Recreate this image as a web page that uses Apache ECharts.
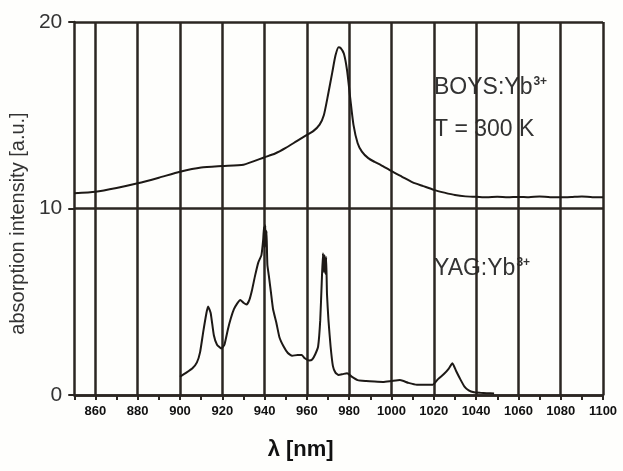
<!DOCTYPE html>
<html>
<head>
<meta charset="utf-8">
<script src="https://cdn.jsdelivr.net/npm/echarts@6/dist/echarts.min.js"></script>
<style>
html,body{margin:0;padding:0;background:#fefefc;}
#chart{width:623px;height:471px;}
</style>
</head>
<body>
<div id="chart"></div>
<script>
// BOYS:Yb3+ spectrum (upper trace, offset by +10)
var boysWavelength = [850, 860, 870, 880, 890, 900, 910, 920, 930, 940, 945, 950, 955, 960, 963, 966, 968, 970, 972, 973.5, 975, 976, 977.5, 979, 980.5, 982, 984, 986, 989, 992, 995, 1000, 1005, 1010, 1015, 1020, 1025, 1030, 1035, 1040, 1045, 1050, 1055, 1060, 1065, 1070, 1075, 1080, 1085, 1090, 1095, 1100];
var boysIntensity = [10.82, 10.9, 11.1, 11.35, 11.65, 11.97, 12.2, 12.28, 12.35, 12.75, 12.95, 13.25, 13.6, 13.95, 14.15, 14.5, 15.0, 16.1, 17.3, 18.2, 18.65, 18.6, 18.3, 17.4, 15.9, 14.5, 13.5, 13.05, 12.7, 12.5, 12.33, 12.0, 11.7, 11.4, 11.2, 11.0, 10.85, 10.72, 10.65, 10.63, 10.6, 10.63, 10.6, 10.62, 10.6, 10.65, 10.6, 10.6, 10.62, 10.65, 10.6, 10.6];

// YAG:Yb3+ spectrum (lower trace)
var yagWavelength = [900, 903, 906, 908, 909.5, 911, 912.5, 913.3, 914.5, 916, 917.5, 919.5, 921, 922.6, 924, 925.5, 927, 928.5, 930, 931.5, 932.8, 934, 935.5, 937, 938.5, 939.3, 939.7, 940.0, 940.3, 940.6, 940.9, 941.3, 942, 943, 944, 945.5, 947, 949, 951, 953, 955.5, 957.5, 959, 961, 962.5, 964, 965.3, 966.3, 967, 967.6, 968, 968.3, 968.7, 969.1, 969.5, 970.2, 971.2, 972.3, 973.5, 975, 977, 979, 981, 984, 988, 992, 996, 1000, 1004, 1008, 1012, 1016, 1019.5, 1022, 1025, 1027, 1028.8, 1030.5, 1032.5, 1034.5, 1036.5, 1039, 1042, 1045, 1048.5];
var yagIntensity = [0.98, 1.2, 1.45, 1.75, 2.3, 3.4, 4.4, 4.75, 4.4, 3.2, 2.7, 2.5, 2.7, 3.5, 4.1, 4.6, 4.9, 5.1, 4.95, 4.85, 5.1, 5.6, 6.4, 7.1, 7.5, 8.3, 9.0, 7.9, 9.1, 8.0, 8.8, 7.0, 6.4, 5.5, 4.6, 3.9, 3.1, 2.6, 2.25, 2.1, 2.15, 2.15, 1.97, 1.85, 1.9, 2.2, 2.6, 4.0, 6.0, 7.6, 6.6, 7.5, 6.5, 7.4, 5.4, 4.0, 2.6, 1.55, 1.2, 1.07, 1.12, 1.17, 1.0, 0.8, 0.75, 0.72, 0.7, 0.75, 0.8, 0.65, 0.55, 0.55, 0.55, 0.85, 1.15, 1.4, 1.7, 1.3, 0.85, 0.45, 0.25, 0.15, 0.12, 0.1, 0.08];

// axis ticks
var xMin = 850, xMax = 1100, xStep = 10, xLabelStep = 20;
var yMin = 0, yMax = 20, yStep = 10;

function zip(xs, ys) { return xs.map(function (x, i) { return [x, ys[i]]; }); }

var ink = '#2b2622';
var textInk = '#333';
var annFont = {fontSize: 23, fontFamily: 'Liberation Sans', fill: textInk};
var supFont = {fontSize: 12, fontWeight: 'bold', fontFamily: 'Liberation Sans', fill: textInk, verticalAlign: 'top', padding: [0, 0, 12, 1]};

var chart = echarts.init(document.getElementById('chart'), null, {renderer: 'canvas'});
chart.setOption({
  backgroundColor: '#fefefc',
  animation: false,
  grid: {left: 73, right: 20, top: 22, bottom: 76},
  xAxis: {
    type: 'value', min: xMin, max: xMax, interval: xStep,
    name: 'λ [nm]', nameLocation: 'middle', nameGap: 44,
    nameTextStyle: {fontSize: 22, fontWeight: 'bold', color: '#111', fontFamily: 'Liberation Sans', padding: [0, 76, 0, 0]},
    axisLine: {show: true, lineStyle: {color: ink, width: 2.5}},
    axisTick: {show: true, length: 5, lineStyle: {color: ink, width: 2}},
    axisLabel: {
      margin: 10, fontSize: 13, fontWeight: 'bold', color: '#111', fontFamily: 'Liberation Sans',
      formatter: function (v) { return v % xLabelStep === 0 ? String(v) : ''; }
    },
    splitLine: {show: true, lineStyle: {color: ['rgba(0,0,0,0)', ink], width: 2.5}}
  },
  yAxis: {
    type: 'value', min: yMin, max: yMax, interval: yStep,
    name: 'absorption intensity [a.u.]', nameLocation: 'middle', nameGap: 44,
    nameTextStyle: {fontSize: 20, color: textInk, fontFamily: 'Liberation Sans', padding: [0, 30, 0, 0]},
    axisLine: {show: true, lineStyle: {color: ink, width: 2.5}},
    axisTick: {show: true, length: 6, lineStyle: {color: ink, width: 2}},
    axisLabel: {margin: 12, fontSize: 21, color: textInk, fontFamily: 'Liberation Sans'},
    splitLine: {show: true, lineStyle: {color: ink, width: 2.5}}
  },
  graphic: [
    {type: 'text', left: 434, top: 76, style: {text: '{m|BOYS:Yb}{s|3+}', rich: {m: annFont, s: supFont}}},
    {type: 'text', left: 434, top: 118, style: {text: 'T = 300 K', fontSize: 23, fontFamily: 'Liberation Sans', fill: textInk}},
    {type: 'text', left: 434, top: 257, style: {text: '{m|YAG:Yb}{s|3+}', rich: {m: annFont, s: supFont}}}
  ],
  series: [
    {type: 'line', name: 'BOYS:Yb3+', data: zip(boysWavelength, boysIntensity), showSymbol: false, symbol: 'none', smooth: 0.2,
     lineStyle: {color: '#1d1916', width: 2}},
    {type: 'line', name: 'YAG:Yb3+', data: zip(yagWavelength, yagIntensity), showSymbol: false, symbol: 'none', smooth: 0.15,
     lineStyle: {color: '#1d1916', width: 2}}
  ]
});
</script>
</body>
</html>
